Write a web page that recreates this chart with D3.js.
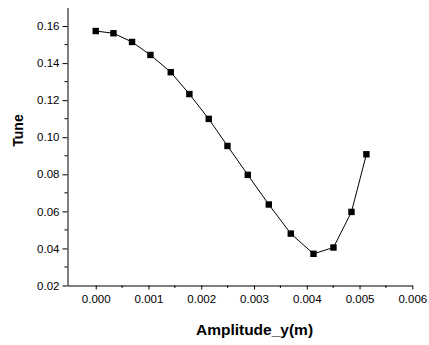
<!DOCTYPE html>
<html>
<head>
<meta charset="utf-8">
<script src="https://cdn.jsdelivr.net/npm/d3@7"></script>
<style>
  html, body { margin: 0; padding: 0; background: #fff; }
  svg { display: block; }
  text { font-family: Arial, "Liberation Sans", sans-serif; fill: #000; }
</style>
</head>
<body>
<svg id="chart" width="429" height="345"></svg>
<script>
const amplitudeY = [0.0000, 0.000336, 0.000688, 0.001037, 0.001422, 0.001775, 0.002142, 0.002497, 0.002882, 0.003280, 0.003697, 0.004127, 0.004506, 0.004847, 0.005130];
const tune = [0.1573, 0.1561, 0.1514, 0.1444, 0.1351, 0.1233, 0.1099, 0.0953, 0.0797, 0.0637, 0.0480, 0.0371, 0.0405, 0.0597, 0.0908];
const xTicks = [0.000, 0.001, 0.002, 0.003, 0.004, 0.005, 0.006];
const yTicks = [0.02, 0.04, 0.06, 0.08, 0.10, 0.12, 0.14, 0.16];
const xMinorTicks = [0.0005, 0.0015, 0.0025, 0.0035, 0.0045, 0.0055];
const yMinorTicks = [0.03, 0.05, 0.07, 0.09, 0.11, 0.13, 0.15];
const xTitle = "Amplitude_y(m)";
const yTitle = "Tune";

const svg = d3.select("#chart");
const x = d3.scaleLinear().domain([-0.000535, 0.006]).range([67.5, 412.3]);
const y = d3.scaleLinear().domain([0.02, 0.17]).range([285.5, 7.5]);

// X axis
const gx = svg.append("g").attr("transform", `translate(0,${y(0.02)})`);
gx.call(d3.axisBottom(x).tickValues(xTicks).tickFormat(d3.format(".3f")).tickSize(4).tickSizeOuter(0).tickPadding(5));
gx.append("g").selectAll("line").data(xMinorTicks).join("line")
  .attr("x1", d => x(d)).attr("x2", d => x(d)).attr("y1", 0).attr("y2", 2.5)
  .attr("stroke", "#000");

// Y axis
const gy = svg.append("g").attr("transform", `translate(${x(-0.000535)},0)`);
gy.call(d3.axisLeft(y).tickValues(yTicks).tickFormat(d3.format(".2f")).tickSize(5).tickSizeOuter(0).tickPadding(3));
gy.append("g").selectAll("line").data(yMinorTicks).join("line")
  .attr("x1", 0).attr("x2", -3).attr("y1", d => y(d)).attr("y2", d => y(d))
  .attr("stroke", "#000");

svg.selectAll(".tick text").style("font-family", "Arial, 'Liberation Sans', sans-serif").style("font-size", "11.5px").attr("fill", "#000");
svg.selectAll(".domain, .tick line").attr("stroke", "#000").attr("stroke-width", 1);

// Line
const pts = amplitudeY.map((v, i) => [v, tune[i]]);
svg.append("path")
  .datum(pts)
  .attr("fill", "none")
  .attr("stroke", "#000")
  .attr("stroke-width", 1)
  .attr("d", d3.line().x(d => x(d[0])).y(d => y(d[1])));

// Markers
svg.append("g").selectAll("rect").data(pts).join("rect")
  .attr("x", d => x(d[0]) - 3.2)
  .attr("y", d => y(d[1]) - 3.2)
  .attr("width", 6.4).attr("height", 6.4)
  .attr("fill", "#000");

// Titles
svg.append("text")
  .attr("x", 254.5).attr("y", 335)
  .attr("text-anchor", "middle")
  .style("font-size", "15.5px").style("font-weight", "bold")
  .text(xTitle);

svg.append("text")
  .attr("transform", "translate(22.5,130.5) rotate(-90)")
  .attr("text-anchor", "middle")
  .style("font-size", "14px").style("font-weight", "bold")
  .text(yTitle);
</script>
</body>
</html>
